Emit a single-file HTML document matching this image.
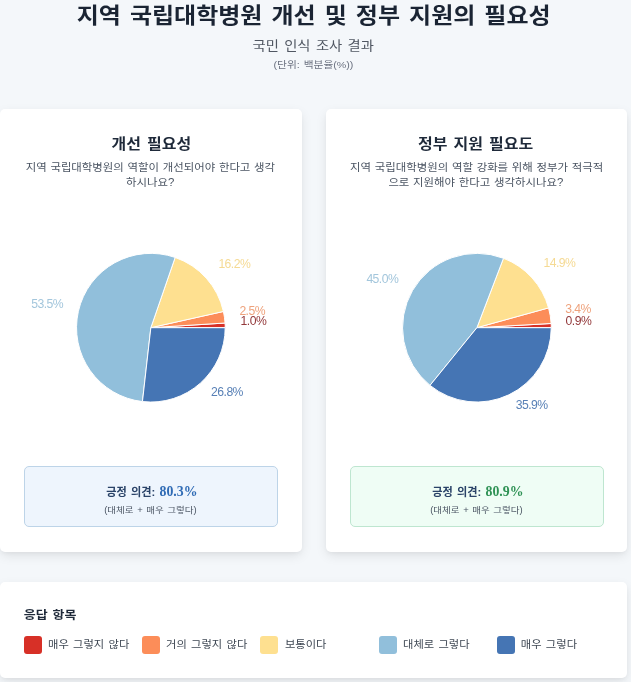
<!DOCTYPE html>
<html lang="ko"><head><meta charset="utf-8"><title>지역 국립대학병원 개선 및 정부 지원의 필요성</title>
<style>
html,body{margin:0;padding:0}
body{width:631px;height:682px;overflow:hidden;position:relative;background:#f4f7fa;font-family:"Liberation Sans","Noto Sans CJK KR",sans-serif;color:#1f2937}
.t{position:absolute;white-space:nowrap;margin:0;font-weight:400}
.k{transform:scaleY(.89);transform-origin:50% 50%;word-spacing:.1em}
.card{position:absolute;background:#fff;border-radius:5px;box-shadow:0 4px 12px -1px rgba(0,0,0,.10),0 2px 4px -1px rgba(0,0,0,.04)}
.h1{font-size:24px;line-height:32px;font-weight:700;color:#1a2433}
.sub{font-size:14.3px;line-height:22px;color:#505762}
.unit{font-size:10.7px;line-height:16px;color:#6b7280}
.ct{font-size:16px;font-weight:700;line-height:22px;color:#1f2a3a}
.cd{font-size:11.4px;line-height:16px;color:#4b5563;word-spacing:.6px}
.pl{font-size:12.2px;line-height:14px;letter-spacing:-.55px}
.box{position:absolute;border-radius:5px;box-sizing:border-box}
.bl{font-size:11.2px;font-weight:700;line-height:20px;color:#2a4368;transform:none}
.bv{font-family:"Liberation Serif",serif;font-size:13.8px;font-weight:700;letter-spacing:0;word-spacing:0}
.bs{font-size:9.5px;line-height:14px;color:#4b5563}
.lt{font-size:13px;font-weight:700;line-height:18px;color:#1f2a3a}
.sw{position:absolute;width:17.6px;height:17.6px;border-radius:3px;top:636.1px}
.li{font-size:11.3px;line-height:18px;color:#3f4854}
svg{position:absolute;left:0;top:0}
</style></head><body>
<div class="card" style="left:0;top:108.5px;width:302px;height:443px"></div>
<div class="card" style="left:326.2px;top:108.5px;width:300.6px;height:443px"></div>
<div class="card" style="left:0;top:582px;width:626.8px;height:95.5px"></div>
<svg width="631" height="682" viewBox="0 0 631 682">
<path d="M150.85 327.70L225.20 327.70A74.35 74.35 0 0 0 225.05 323.03Z" fill="#d73027" stroke="#fff" stroke-width="1" stroke-linejoin="round"/>
<path d="M150.85 327.70L225.05 323.03A74.35 74.35 0 0 0 223.41 311.48Z" fill="#fc8d59" stroke="#fff" stroke-width="1" stroke-linejoin="round"/>
<path d="M150.85 327.70L223.41 311.48A74.35 74.35 0 0 0 175.15 257.43Z" fill="#fee090" stroke="#fff" stroke-width="1" stroke-linejoin="round"/>
<path d="M150.85 327.70L175.15 257.43A74.35 74.35 0 1 0 142.46 401.58Z" fill="#91bfdb" stroke="#fff" stroke-width="1" stroke-linejoin="round"/>
<path d="M150.85 327.70L142.46 401.58A74.35 74.35 0 0 0 225.20 327.70Z" fill="#4575b4" stroke="#fff" stroke-width="1" stroke-linejoin="round"/>
<path d="M476.90 327.70L551.25 327.70A74.35 74.35 0 0 0 551.13 323.50Z" fill="#d73027" stroke="#fff" stroke-width="1" stroke-linejoin="round"/>
<path d="M476.90 327.70L551.13 323.50A74.35 74.35 0 0 0 548.56 307.88Z" fill="#fc8d59" stroke="#fff" stroke-width="1" stroke-linejoin="round"/>
<path d="M476.90 327.70L548.56 307.88A74.35 74.35 0 0 0 503.48 258.26Z" fill="#fee090" stroke="#fff" stroke-width="1" stroke-linejoin="round"/>
<path d="M476.90 327.70L503.48 258.26A74.35 74.35 0 0 0 430.00 385.39Z" fill="#91bfdb" stroke="#fff" stroke-width="1" stroke-linejoin="round"/>
<path d="M476.90 327.70L430.00 385.39A74.35 74.35 0 0 0 551.25 327.70Z" fill="#4575b4" stroke="#fff" stroke-width="1" stroke-linejoin="round"/>
</svg>
<div class="box" style="left:24.3px;top:466.4px;width:253.7px;height:61px;background:#eef5fd;border:1px solid #bdd4e8"></div>
<div class="box" style="left:350.2px;top:466.4px;width:253.7px;height:61px;background:#effdf5;border:1px solid #bee6d0"></div>
<div class="sw" style="left:24.1px;background:#d73027"></div>
<div class="sw" style="left:142.2px;background:#fc8d59"></div>
<div class="sw" style="left:260.1px;background:#fee090"></div>
<div class="sw" style="left:379.1px;background:#91bfdb"></div>
<div class="sw" style="left:497.1px;background:#4575b4"></div>
<h1 id="t1" class="t k h1" style="left:76.70px;top:0.40px;">지역 국립대학병원 개선 및 정부 지원의 필요성</h1>
<div id="t2" class="t k sub" style="left:252.50px;top:34.90px;">국민 인식 조사 결과</div>
<div id="t3" class="t k unit" style="left:273.50px;top:56.40px;">(단위: 백분율(%))</div>
<div id="c1" class="t k ct" style="left:111.50px;top:133.60px;">개선 필요성</div>
<div id="c2" class="t k ct" style="left:418.00px;top:133.60px;">정부 지원 필요도</div>
<div id="d1a" class="t k cd" style="left:25.70px;top:158.90px;">지역 국립대학병원의 역할이 개선되어야 한다고 생각</div>
<div id="d1b" class="t k cd" style="left:126.00px;top:173.90px;">하시나요?</div>
<div id="d2a" class="t k cd" style="left:350.10px;top:158.90px;">지역 국립대학병원의 역할 강화를 위해 정부가 적극적</div>
<div id="d2b" class="t k cd" style="left:388.40px;top:173.90px;">으로 지원해야 한다고 생각하시나요?</div>
<div id="p1a" class="t pl" style="left:218.40px;top:256.70px;color:#f5da94">16.2%</div>
<div id="p1b" class="t pl" style="left:31.20px;top:297.40px;color:#a3c6dc">53.5%</div>
<div id="p1c" class="t pl" style="left:239.40px;top:303.80px;color:#eea27c">2.5%</div>
<div id="p1d" class="t pl" style="left:240.60px;top:313.90px;color:#93393b">1.0%</div>
<div id="p1e" class="t pl" style="left:211.10px;top:384.60px;color:#5880b6">26.8%</div>
<div id="p2a" class="t pl" style="left:543.50px;top:255.70px;color:#f5da94">14.9%</div>
<div id="p2b" class="t pl" style="left:366.40px;top:272.40px;color:#a3c6dc">45.0%</div>
<div id="p2c" class="t pl" style="left:565.20px;top:301.80px;color:#eea27c">3.4%</div>
<div id="p2d" class="t pl" style="left:565.60px;top:314.40px;color:#93393b">0.9%</div>
<div id="p2e" class="t pl" style="left:515.70px;top:398.40px;color:#5880b6">35.9%</div>
<div id="b1" class="t k bl" style="left:106.20px;top:481.50px;">긍정 의견: <span class="bv" style="color:#2f6bb5">80.3%</span></div>
<div id="b1s" class="t k bs" style="left:104.20px;top:502.80px;">(대체로 + 매우 그렇다)</div>
<div id="b2" class="t k bl" style="left:432.20px;top:481.50px;">긍정 의견: <span class="bv" style="color:#2f9255">80.9%</span></div>
<div id="b2s" class="t k bs" style="left:430.20px;top:502.80px;">(대체로 + 매우 그렇다)</div>
<div id="lt" class="t k lt" style="left:23.70px;top:606.40px;">응답 항목</div>
<div id="l1" class="t k li" style="left:48.00px;top:635.30px;">매우 그렇지 않다</div>
<div id="l2" class="t k li" style="left:166.00px;top:635.30px;">거의 그렇지 않다</div>
<div id="l3" class="t k li" style="left:284.90px;top:635.30px;">보통이다</div>
<div id="l4" class="t k li" style="left:403.00px;top:635.30px;">대체로 그렇다</div>
<div id="l5" class="t k li" style="left:520.80px;top:635.30px;">매우 그렇다</div>
</body></html>
